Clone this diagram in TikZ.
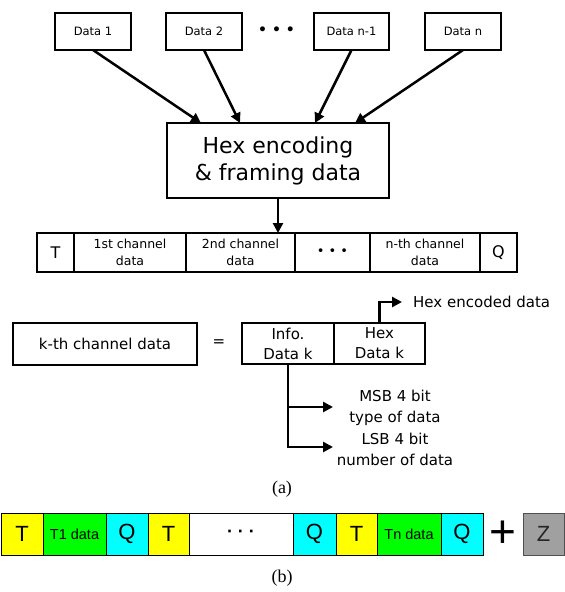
\documentclass[tikz,border=0pt]{standalone}
\usepackage{fontspec}
\setmainfont{DejaVu Sans}
\newfontfamily\arialfont{Liberation Sans}
\newfontfamily\timesfont{Liberation Serif}
\usetikzlibrary{arrows.meta,calc}

\newcommand\fsz[2]{\fontsize{#1}{#2}\selectfont}
\definecolor{cellyellow}{HTML}{FFFF00}
\definecolor{cellgreen}{HTML}{00FF00}
\definecolor{cellcyan}{HTML}{00FFFF}
\definecolor{cellgray}{HTML}{A0A0A0}
\definecolor{edgegray}{HTML}{505050}

\begin{document}
\begin{tikzpicture}[x=1pt,y=-1pt,
  box/.style={draw, line width=2.6pt, rectangle, inner sep=0pt, outer sep=0pt, align=center},
  fcell/.style={box, minimum height=39pt, font=\fsz{12.5}{16.5}},
  bcell/.style={draw, line width=1pt, rectangle, inner sep=0pt, outer sep=0pt,
                minimum height=42pt, font=\arialfont\fsz{22}{24}},
  conn/.style={line width=2.5pt, -{Triangle[length=10pt,width=10pt]}},
  lbl/.style={inner sep=0pt, align=center, font=\fsz{15}{21}}]

\useasboundingbox (0,0) rectangle (565,592);

% input data blocks
\node[box, minimum width=76pt, minimum height=37pt, font=\fsz{11.5}{14}] (d1) at (93,31.5) {Data 1};
\node[box, minimum width=76pt, minimum height=37pt, font=\fsz{11.5}{14}] (d2) at (204,31.5) {Data 2};
\node[inner sep=0pt, font=\bfseries\fsz{14}{14}] (ddots) at (276.5,31) {• • •};
\node[box, minimum width=75pt, minimum height=37pt, font=\fsz{11.5}{14}] (d3) at (351.5,31.5) {Data n-1};
\node[box, minimum width=76pt, minimum height=37pt, font=\fsz{11.5}{14}] (d4) at (463,31.5) {Data n};

% encoder
\node[box, line width=2.8pt, minimum width=222pt, minimum height=75pt, font=\fsz{22}{27}] (hex) at (278,160.5)
  {Hex encoding\\\& framing data};

\draw[conn] (d1.south) -- ($(hex.north west)+(34,0)$);
\draw[conn] (d2.south) -- ($(hex.north west)+(73,0)$);
\draw[conn] (d3.south) -- ($(hex.north west)+(148,0)$);
\draw[conn] (d4.south) -- ($(hex.north west)+(188,0)$);

% frame
\node[fcell, minimum width=37pt, font=\fsz{16}{18}] (fT) at (55.5,252.5) {T};
\node[fcell, minimum width=112pt] (f1) at (130,252.5) {1st channel\\data};
\node[fcell, minimum width=109pt] (f2) at (240.5,252.5) {2nd channel\\data};
\node[fcell, minimum width=75pt, font=\fsz{13}{13}] (fd) at (332.5,252.5) {• • •};
\node[fcell, minimum width=110pt] (fn) at (425,252.5) {n-th channel\\data};
\node[fcell, minimum width=37pt, font=\fsz{16}{18}] (fQ) at (498.5,252.5) {Q};

\draw[conn] (hex.south) -- (hex.south |- f2.north);

% structure of one channel
\node[box, minimum width=184pt, minimum height=42pt, font=\fsz{15}{18}] (kth) at (105,344) {k-th channel data};
\node[inner sep=0pt, font=\fsz{15}{18}] (eq) at (219,343) {=};
\node[box, minimum width=92pt, minimum height=41pt, font=\fsz{15}{20}] (info) at (288,343.5) {Info.\\Data k};
\node[box, minimum width=91pt, minimum height=41pt, font=\fsz{15}{20}] (hexk) at (379.5,343.5) {Hex\\Data k};

\node[anchor=west, inner sep=0pt, font=\fsz{15}{18}] (enc) at (413,302) {Hex encoded data};
\draw[conn] (hexk.north) |- ([xshift=-11pt]enc.west);

\node[lbl] (msb) at (395,407.5) {MSB 4 bit\\type of data};
\node[lbl] (lsb) at (395,449.5) {LSB 4 bit\\number of data};
\coordinate (mtip) at (333,407);
\coordinate (ltip) at (333,447);
\draw[conn] (info.south) |- (ltip);
\draw[conn] (info.south |- mtip) -- (mtip);

\node[inner sep=0pt, font=\timesfont\fsz{18}{20}] (capa) at (282,489) {(a)};

% serial stream
\node[bcell, fill=cellyellow, minimum width=42pt] (b1) at (22,534) {T};
\node[bcell, fill=cellgreen, minimum width=63pt, font=\arialfont\fsz{14.5}{16}] (b2) at (74.5,534) {T1 data};
\node[bcell, fill=cellcyan, minimum width=42pt] (b3) at (127,534) {Q};
\node[bcell, fill=cellyellow, minimum width=41pt] (b4) at (168.5,534) {T};
\node[bcell, fill=white, minimum width=104pt, font=\arialfont\bfseries\fsz{18}{20}] (b5) at (241,534) {· · ·};
\node[bcell, fill=cellcyan, minimum width=43pt] (b6) at (314.5,534) {Q};
\node[bcell, fill=cellyellow, minimum width=41pt] (b7) at (356.5,534) {T};
\node[bcell, fill=cellgreen, minimum width=64pt, font=\arialfont\fsz{14.5}{16}] (b8) at (409,534) {Tn data};
\node[bcell, fill=cellcyan, minimum width=42pt] (b9) at (462,534) {Q};
\node[inner sep=0pt, font=\arialfont\fsz{46}{46}] (plus) at (503,534) {+};
\node[bcell, fill=cellgray, draw=edgegray, minimum width=41pt, text=black!85] (bz) at (543.5,534) {Z};

\node[inner sep=0pt, font=\timesfont\fsz{18}{20}] (capb) at (282,578) {(b)};
\end{tikzpicture}
\end{document}
